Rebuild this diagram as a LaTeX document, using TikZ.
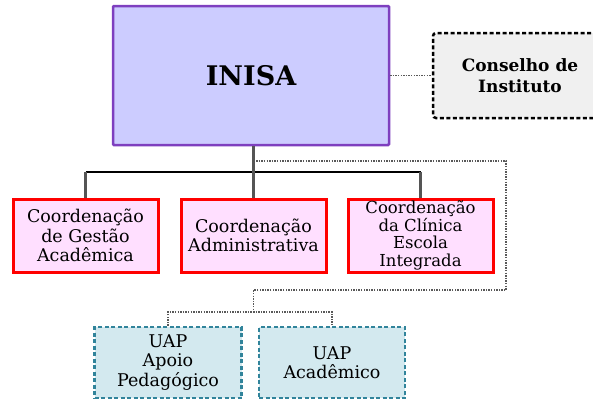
\documentclass[tikz,border=0pt]{standalone}
\usepackage{fontspec}
\setmainfont{DejaVu Serif}
\definecolor{inisafill}{HTML}{CCCCFF}
\definecolor{inisaline}{HTML}{7E3FBF}
\definecolor{coordfill}{HTML}{FFDFFF}
\definecolor{coordline}{HTML}{FF0000}
\definecolor{consfill}{HTML}{F0F0F0}
\definecolor{uapfill}{HTML}{D3E9EF}
\definecolor{uapline}{HTML}{31849B}
\definecolor{linkgrey}{HTML}{555555}
\begin{document}
\begin{tikzpicture}[x=1pt,y=-1pt,
  inisabox/.style={draw=inisaline,fill=inisafill,line width=2.5pt,rounded corners=1pt,
    minimum width=276pt,minimum height=139pt,font=\fontsize{27}{30}\selectfont\bfseries},
  consbox/.style={draw=black,fill=consfill,line width=2.5pt,dash pattern=on 4pt off 2.5pt,rounded corners=3pt,
    minimum width=174pt,minimum height=85pt,align=center,font=\fontsize{17}{21}\selectfont\bfseries},
  coordbox/.style={draw=coordline,fill=coordfill,line width=3pt,
    minimum width=145pt,minimum height=73pt,align=center,inner sep=1pt,font=\fontsize{17.5}{19.5}\selectfont},
  uapbox/.style={draw=uapline,fill=uapfill,line width=2.5pt,dash pattern=on 4pt off 2.5pt,
    minimum width=147pt,minimum height=71pt,align=center,inner sep=1pt,font=\fontsize{17.5}{19.5}\selectfont},
  solidlink/.style={draw=linkgrey,line width=2.5pt},
  buslink/.style={draw=black,line width=1.4pt},
  dotlink/.style={draw=black!65,line width=1.4pt,dash pattern=on 1.4pt off 1.2pt},
]
\useasboundingbox (0,0) rectangle (593,402);
\begin{scope}
\clip (0,0) rectangle (593,402);
\node[consbox] (cons) at (520,75.5) {Conselho de\\Instituto};
\end{scope}
\node[inisabox] (inisa) at (251,75.5) {INISA};
\node[coordbox] (c1) at (85.5,235.5) {Coordenação\\de Gestão\\Acadêmica};
\node[coordbox] (c2) at (253.5,235.5) {Coordenação\\Administrativa};
\node[coordbox,font=\fontsize{16.5}{17.5}\selectfont] (c3) at (420.5,235.5) {Coordenação\\da Clínica\\Escola\\Integrada};
\node[uapbox] (u1) at (168,362.5) {UAP\\Apoio\\Pedagógico};
\node[uapbox,minimum width=146pt] (u2) at (332,362.5) {UAP\\Acadêmico};
\coordinate (bus) at (253.5,172);
\coordinate (dtop) at (253.5,161);
\coordinate (dright) at (506,161);
\coordinate (dlow) at (506,290);
\coordinate (dbus) at (253.5,312);
% connectors
\draw[dotlink] (inisa.east) -- (cons.west);
\draw[dotlink] (dtop) -- (dright) -- (dlow) -| (dbus);
\draw[dotlink] (u1.north) |- (dbus) -| (u2.north);
\draw[buslink] (c1.north |- bus) -- (c3.north |- bus);
\draw[solidlink] (c1.north) -- (c1.north |- bus);
\draw[solidlink] (c3.north) -- (c3.north |- bus);
\draw[solidlink] (inisa.south -| c2.north) -- (c2.north);
\end{tikzpicture}
\end{document}
